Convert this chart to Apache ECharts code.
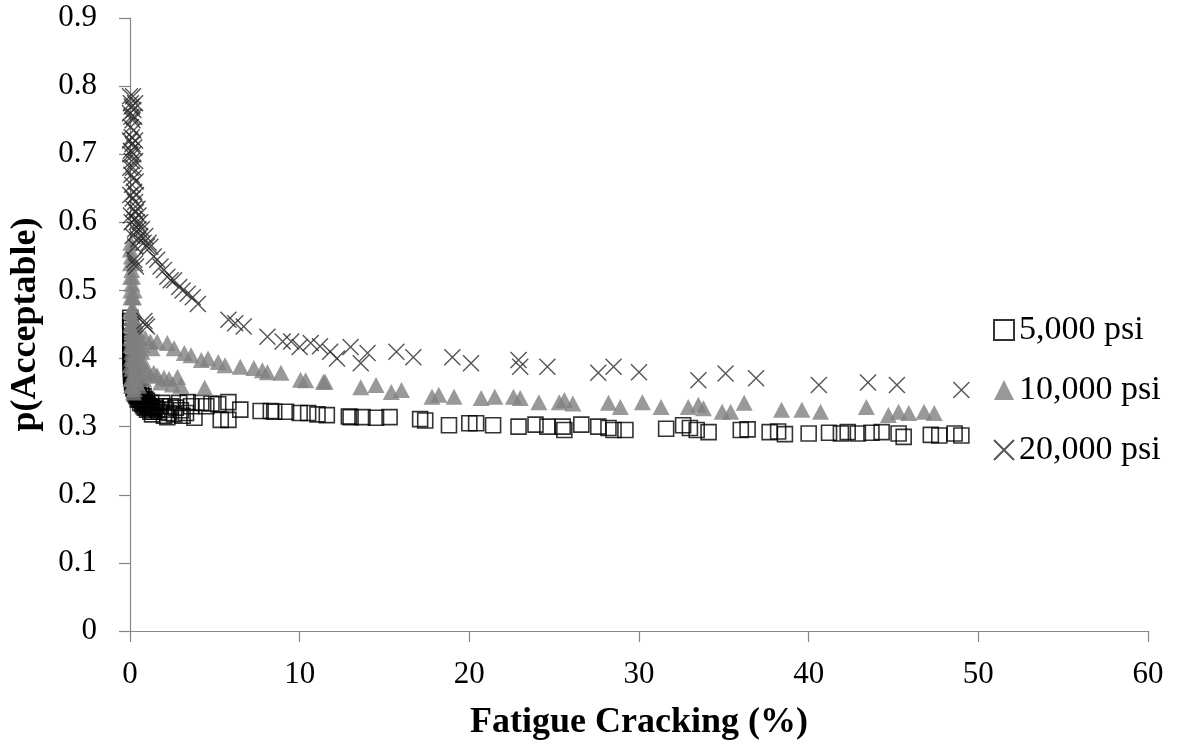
<!DOCTYPE html>
<html>
<head>
<meta charset="utf-8">
<script src="https://cdn.jsdelivr.net/npm/echarts@6/dist/echarts.min.js"></script>
<style>
  html, body { margin: 0; padding: 0; background: #fff; }
  #chart { width: 1177px; height: 748px; }
</style>
</head>
<body>
<div id="chart"></div>
<script>
// Probability of acceptable performance vs. fatigue cracking, by modulus level
const seriesNames = ['5,000 psi', '10,000 psi', '20,000 psi'];
const xTicks = [0, 10, 20, 30, 40, 50, 60];
const yTicks = [0, 0.1, 0.2, 0.3, 0.4, 0.5, 0.6, 0.7, 0.8, 0.9];

// 5,000 psi  [fatigue cracking %, p(Acceptable)]
const psi5000 = [
  [0.02,0.46],[0.03,0.445],[0.04,0.43],[0.05,0.42],[0.06,0.41],[0.08,0.40],[0.1,0.392],[0.12,0.385],
  [0.15,0.378],[0.18,0.372],[0.22,0.366],[0.26,0.361],[0.3,0.357],[0.35,0.353],[0.4,0.35],[0.46,0.347],
  [0.52,0.344],[0.6,0.341],[0.68,0.339],[0.76,0.337],[0.85,0.335],[0.95,0.333],[1.05,0.331],[1.15,0.33],
  [1.3,0.328],[1.45,0.327],[0.03,0.40],[0.05,0.385],[0.08,0.372],[0.12,0.365],[0.2,0.356],[0.3,0.348],
  [0.45,0.34],[0.6,0.335],[0.8,0.33],[1.0,0.325],[1.2,0.322],[0.9,0.34],[0.5,0.352],
  [0.01,0.455],[0.02,0.44],[0.02,0.425],[0.03,0.415],[0.04,0.405],[0.05,0.395],[0.06,0.39],[0.07,0.38],
  [0.09,0.375],[0.11,0.38],[0.14,0.37],[0.17,0.365],[0.2,0.362],[0.24,0.357],[0.28,0.352],[0.33,0.36],
  [0.38,0.345],[0.42,0.356],[0.55,0.34],[0.65,0.35],[0.72,0.333],[0.8,0.345],[0.88,0.328],[1.0,0.338],
  [1.1,0.327],[1.25,0.335],[1.35,0.322],[1.6,0.325],[1.8,0.33],[2.1,0.325],[2.3,0.32],[2.7,0.328],
  [3.0,0.324],[3.3,0.32],[0.06,0.375],[0.15,0.36],[0.7,0.345],
  [1.3,0.318],[1.5,0.33],[1.7,0.322],[1.9,0.335],[2.0,0.316],[2.2,0.314],[2.4,0.33],[2.6,0.318],
  [2.9,0.335],[3.1,0.316],[3.4,0.336],[3.6,0.33],[3.8,0.313],[4.2,0.335],[4.5,0.33],[4.8,0.334],
  [5.2,0.333],[5.35,0.31],[5.8,0.31],[5.8,0.336],[6.5,0.325],[7.7,0.323],[8.3,0.323],[8.5,0.322],
  [9.2,0.322],[10.0,0.32],[10.5,0.32],[11.05,0.318],[11.6,0.317],[12.9,0.315],[13.0,0.314],[13.7,0.314],
  [14.5,0.313],[15.3,0.314],[17.1,0.311],[17.4,0.309],[18.8,0.302],[20.0,0.305],[20.4,0.305],[21.4,0.302],
  [22.9,0.30],[23.9,0.303],[24.6,0.30],[25.5,0.30],[25.6,0.295],[26.6,0.303],[27.6,0.30],[28.2,0.298],
  [28.5,0.295],[29.2,0.295],[31.6,0.297],[32.6,0.302],[33.0,0.298],[33.4,0.295],[34.1,0.292],[36.0,0.295],
  [36.4,0.296],[37.7,0.292],[38.2,0.293],[38.6,0.289],[40.0,0.29],[41.2,0.291],[41.9,0.29],[42.3,0.292],
  [42.9,0.29],[43.7,0.291],[44.3,0.292],[45.3,0.29],[45.6,0.285],[47.2,0.288],[47.7,0.287],[48.6,0.29],
  [49.0,0.287]
];

// 10,000 psi
const psi10000 = [
  [0.05,0.57],[0.08,0.55],[0.1,0.53],[0.12,0.51],[0.15,0.49],[0.18,0.47],[0.2,0.455],[0.25,0.44],
  [0.3,0.43],[0.4,0.42],[0.5,0.415],[0.7,0.41],[0.05,0.5],[0.05,0.45],[0.06,0.42],[0.08,0.40],
  [0.1,0.385],[0.12,0.37],[0.15,0.36],[0.2,0.35],[0.1,0.47],[0.15,0.42],[0.2,0.40],[0.25,0.38],
  [0.3,0.37],[0.4,0.365],[0.5,0.36],[0.6,0.375],[0.8,0.37],[1.0,0.38],[1.4,0.379],[1.6,0.375],
  [2.0,0.372],[2.3,0.37],[2.8,0.373],[4.4,0.357],
  [0.02,0.56],[0.03,0.54],[0.04,0.52],[0.06,0.49],[0.03,0.47],[0.08,0.46],[0.12,0.45],[0.04,0.43],
  [0.1,0.44],[0.18,0.43],[0.25,0.47],[0.3,0.455],[0.35,0.45],[0.2,0.49],[0.25,0.5],[0.15,0.52],
  [0.3,0.4],[0.35,0.39],[0.45,0.385],[0.55,0.4],[0.65,0.39],[0.7,0.42],[0.45,0.44],[0.55,0.43],
  [0.8,0.395],[0.9,0.38],[1.2,0.375],[0.08,0.36],[0.25,0.355],[0.12,0.41],[0.02,0.39],[0.05,0.37],
  [1.8,0.365],[2.5,0.362],[3.0,0.36],[1.3,0.415],
  [0.9,0.43],[1.2,0.425],[1.6,0.425],[2.2,0.423],[2.6,0.415],[3.2,0.408],[3.6,0.405],[4.2,0.398],
  [4.6,0.40],[5.2,0.395],[5.6,0.39],[6.5,0.388],[7.3,0.386],[7.8,0.383],[8.1,0.38],[8.9,0.379],
  [10.05,0.369],[10.35,0.368],[11.4,0.366],[11.5,0.366],[13.6,0.358],[14.5,0.361],[15.4,0.351],[16.0,0.354],
  [17.8,0.344],[18.2,0.347],[19.1,0.344],[20.7,0.342],[21.5,0.344],[22.6,0.344],[23.0,0.342],[24.1,0.336],
  [25.3,0.336],[25.6,0.339],[26.1,0.334],[28.2,0.335],[28.9,0.329],[30.2,0.336],[31.3,0.329],[32.9,0.329],
  [33.5,0.332],[33.8,0.327],[34.9,0.322],[35.4,0.322],[36.2,0.335],[38.4,0.325],[39.6,0.325],[40.7,0.322],
  [43.4,0.329],[44.7,0.317],[45.3,0.322],[45.9,0.32],[46.8,0.322],[47.4,0.32]
];

// 20,000 psi
const psi20000 = [
  [0.05,0.775],[0.1,0.77],[0.2,0.765],[0.08,0.755],[0.15,0.75],[0.05,0.74],[0.2,0.735],[0.1,0.725],
  [0.15,0.715],[0.05,0.705],[0.2,0.70],[0.1,0.69],[0.18,0.68],[0.08,0.67],[0.22,0.665],[0.12,0.655],
  [0.25,0.645],[0.15,0.635],[0.3,0.63],[0.2,0.62],[0.35,0.615],[0.25,0.605],[0.4,0.60],[0.3,0.59],
  [0.0,0.76],[0.3,0.775],[0.25,0.755],[0.0,0.72],[0.3,0.72],[0.02,0.68],[0.3,0.69],[0.33,0.66],
  [0.02,0.64],[0.35,0.64],[0.05,0.61],[0.45,0.62],[0.5,0.61],[0.1,0.60],[0.6,0.60],[0.7,0.59],
  [0.15,0.58],[0.3,0.565],[0.02,0.70],[0.25,0.71],[0.0,0.785],[0.18,0.785],[0.5,0.575],[0.9,0.58],
  [1.1,0.57],[1.6,0.545],[2.2,0.52],[2.9,0.505],[3.4,0.495],
  [0.5,0.59],[0.6,0.58],[0.8,0.57],[1.0,0.565],[1.2,0.564],[1.4,0.55],[1.8,0.535],[2.0,0.53],
  [2.4,0.515],[2.6,0.515],[3.1,0.50],[3.7,0.49],[4.0,0.48],[5.8,0.457],[6.2,0.452],[6.7,0.447],
  [8.1,0.432],[9.0,0.425],[9.5,0.425],[10.0,0.417],[10.65,0.423],[11.2,0.418],[11.8,0.41],[12.2,0.40],
  [13.0,0.417],[13.6,0.393],[14.0,0.408],[15.7,0.41],[16.7,0.402],[19.0,0.402],[20.1,0.393],[22.9,0.398],
  [23.0,0.388],[24.6,0.388],[27.6,0.379],[28.5,0.388],[30.0,0.38],[33.5,0.368],[35.1,0.378],[36.9,0.371],
  [40.6,0.361],[43.5,0.365],[45.2,0.361],[49.0,0.354],
  [0.3,0.54],[0.35,0.535],[0.25,0.545],[0.9,0.45],[1.0,0.447],[0.85,0.455]
];

const serif = "'Liberation Serif', 'Times New Roman', serif";
const axisGray = '#868686';
const crossPath = 'path://M0,0L10,10M0,10L10,0';

const chart = echarts.init(document.getElementById('chart'), null, { renderer: 'canvas' });

chart.setOption({
  animation: false,
  backgroundColor: '#ffffff',
  grid: { left: 130, right: 29, top: 18, bottom: 117, containLabel: false },
  legend: {
    orient: 'vertical',
    left: 988,
    top: 307,
    itemWidth: 20,
    itemHeight: 20,
    itemGap: 24,
    data: seriesNames,
    textStyle: { fontFamily: serif, fontSize: 34, color: '#000', lineHeight: 36 }
  },
  xAxis: {
    type: 'value',
    min: xTicks[0],
    max: xTicks[xTicks.length - 1],
    interval: xTicks[1] - xTicks[0],
    name: 'Fatigue Cracking (%)',
    nameLocation: 'middle',
    nameGap: 74,
    nameTextStyle: { fontFamily: serif, fontSize: 36, fontWeight: 'bold', color: '#000' },
    axisLine: { onZero: false, lineStyle: { color: axisGray, width: 1.2 } },
    axisTick: { show: true, inside: false, length: 11, lineStyle: { color: axisGray, width: 1.2 } },
    axisLabel: { margin: 28, fontFamily: serif, fontSize: 31, color: '#000' },
    splitLine: { show: false }
  },
  yAxis: {
    type: 'value',
    min: yTicks[0],
    max: yTicks[yTicks.length - 1],
    interval: 0.1,
    name: 'p(Acceptable)',
    nameLocation: 'middle',
    nameGap: 86,
    nameTextStyle: { fontFamily: serif, fontSize: 36, fontWeight: 'bold', color: '#000' },
    axisLine: { show: true, onZero: false, lineStyle: { color: axisGray, width: 1.2 } },
    axisTick: { show: true, inside: false, length: 11, lineStyle: { color: axisGray, width: 1.2 } },
    axisLabel: {
      margin: 33, fontFamily: serif, fontSize: 31, color: '#000',
      formatter: v => (v === 0 ? '0' : v.toFixed(1))
    },
    splitLine: { show: false }
  },
  series: [
    {
      name: seriesNames[0],
      type: 'scatter',
      data: psi5000,
      symbol: 'rect',
      symbolSize: 15,
      itemStyle: { color: 'rgba(255,255,255,0)', borderColor: '#000', borderWidth: 1.6 }
    },
    {
      name: seriesNames[1],
      type: 'scatter',
      data: psi10000,
      symbol: 'triangle',
      symbolSize: [17, 16],
      itemStyle: { color: '#808080' }
    },
    {
      name: seriesNames[2],
      type: 'scatter',
      data: psi20000,
      symbol: crossPath,
      symbolSize: 16,
      itemStyle: { color: 'rgba(0,0,0,0)', borderColor: '#2a2a2a', borderWidth: 1.4 }
    }
  ]
});
</script>
</body>
</html>
